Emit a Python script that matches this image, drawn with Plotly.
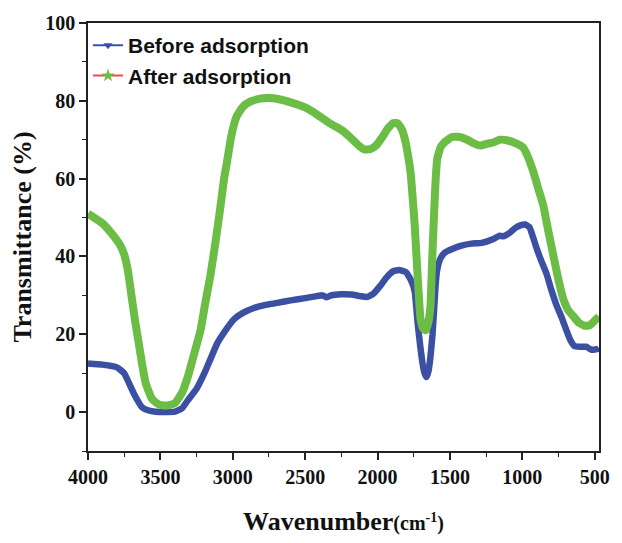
import plotly.graph_objects as go

before_x = [4000, 3900, 3800, 3750, 3716, 3680, 3628, 3580, 3534, 3470, 3400, 3350, 3311, 3250,
            3196, 3150, 3108, 3050, 2993, 2930, 2858, 2780, 2703, 2600, 2500, 2420, 2380, 2350,
            2320, 2250, 2180, 2120, 2070, 2027, 1980, 1940, 1892, 1850, 1804, 1770, 1743, 1723,
            1705, 1689, 1675, 1662, 1648, 1635, 1620, 1608, 1598, 1588, 1565, 1534, 1480, 1420,
            1351, 1280, 1200, 1160, 1130, 1090, 1050, 1014, 980, 950, 926, 900, 870, 832, 800,
            764, 730, 700, 669, 640, 602, 560, 520, 480, 470]
before_y = [12.5, 12.2, 11.5, 10, 7.4, 4.5, 1.3, 0.4, 0.1, 0, 0.1, 1, 3, 6,
            10, 14, 17.6, 21, 23.8, 25.5, 26.7, 27.5, 28, 28.7, 29.3, 29.8, 30, 29.5,
            30, 30.3, 30.2, 29.8, 29.6, 30.5, 32.5, 34.5, 36.2, 36.5, 36, 34, 31, 23,
            17, 12.5, 10, 9, 10.5, 14, 20, 27, 33, 36.5, 39.5, 41, 42, 42.8,
            43.3, 43.5, 44.5, 45.3, 45.2, 46, 47.3, 48, 48.2, 47.5, 45, 42, 39, 35.5, 31.5,
            27.5, 24.5, 21.5, 18.6, 17, 16.8, 16.8, 16, 16.2, 16.5]

after_x = [4000, 3900, 3828, 3780, 3750, 3725, 3700, 3675, 3649, 3625, 3601, 3560, 3520, 3493,
           3450, 3399, 3350, 3311, 3270, 3223, 3190, 3155, 3120, 3088, 3060, 3041, 3010, 2973,
           2930, 2880, 2820, 2750, 2680, 2600, 2500, 2430, 2380, 2330, 2280, 2230, 2180, 2130,
           2090, 2050, 2010, 1970, 1930, 1890, 1860, 1830, 1804, 1785, 1770, 1755, 1743, 1723,
           1703, 1685, 1669, 1652, 1635, 1622, 1608, 1598, 1588, 1565, 1541, 1486, 1432, 1380,
           1330, 1291, 1240, 1200, 1155, 1100, 1040, 994, 960, 926, 890, 854, 820, 784, 750,
           716, 680, 649, 610, 570, 534, 500, 470]
after_y = [51, 48.5, 45.5, 43, 40.5, 36.5, 30, 23.5, 17.6, 12, 7.4, 3.5, 2.2, 1.8,
           1.7, 2.3, 5, 9, 14.5, 21, 28, 35, 43.5, 52, 60, 64, 71, 76,
           78.5, 79.8, 80.5, 80.7, 80.4, 79.6, 78.3, 76.8, 75.5, 74.2, 73.2, 72, 70.3, 68.5,
           67.5, 67.6, 68.5, 70.5, 72.8, 74.3, 74.2, 72.5, 69, 65, 61, 54, 48, 35,
           24, 21.5, 21, 22.5, 27, 39.5, 52, 60, 65, 68, 69.2, 70.7, 70.7, 70,
           69, 68.5, 69, 69.3, 70, 69.8, 69, 68, 65.5, 62, 57.5, 53, 46.5, 40, 34,
           29, 26, 24.7, 23, 22.2, 22.3, 23.5, 24.5]

x_ticks = [4000, 3500, 3000, 2500, 2000, 1500, 1000, 500]
y_ticks = [0, 20, 40, 60, 80, 100]

BLUE = "#3B4FA3"
GREEN = "#6BBD45"
RED = "#EE4B52"
SERIF = "Liberation Serif"

fig = go.Figure()
fig.add_trace(go.Scatter(x=before_x, y=before_y, mode="lines",
                         line=dict(color=BLUE, width=6.5, shape="spline", smoothing=0.4),
                         showlegend=False))
fig.add_trace(go.Scatter(x=after_x, y=after_y, mode="lines",
                         line=dict(color=GREEN, width=8, shape="spline", smoothing=0.4),
                         showlegend=False))
fig.add_trace(go.Scatter(x=[None], y=[None], mode="lines+markers", name="Before adsorption",
                         line=dict(color=BLUE, width=2),
                         marker=dict(symbol="triangle-down", size=8, color=BLUE)))
fig.add_trace(go.Scatter(x=[None], y=[None], mode="lines+markers", name="After adsorption",
                         line=dict(color=RED, width=2),
                         marker=dict(symbol="star", size=10, color=GREEN)))

axis_common = dict(showline=True, linecolor="#222", linewidth=1.5, mirror=True,
                   showgrid=False, zeroline=False, ticks="outside", tickcolor="#222",
                   ticklen=7, tickwidth=1.5,
                   tickfont=dict(family=SERIF, size=20, color="#111", weight="bold"))

fig.update_xaxes(range=[4000, 470], tickvals=x_ticks, ticktext=[str(v) for v in x_ticks],
                 minor=dict(dtick=250, ticks="outside", ticklen=4, tickcolor="#222", tickwidth=1.2),
                 title=dict(text="Wavenumber<span style='font-size:20px'>(cm<sup>-1</sup>)</span>",
                            font=dict(family=SERIF, size=26, color="#111", weight="bold"), standoff=25),
                 **axis_common)
fig.update_yaxes(range=[-10, 100], tickvals=y_ticks, ticktext=[str(v) for v in y_ticks],
                 minor=dict(dtick=10, ticks="outside", ticklen=4, tickcolor="#222", tickwidth=1.2),
                 title=dict(text="Transmittance (%)",
                            font=dict(family=SERIF, size=26, color="#111", weight="bold"), standoff=6),
                 **axis_common)

fig.update_layout(width=622, height=543, margin=dict(l=88, r=13, t=19, b=91),
                  plot_bgcolor="white", paper_bgcolor="white",
                  legend=dict(x=0.0, y=0.995, xanchor="left", yanchor="top",
                              bgcolor="rgba(0,0,0,0)",
                              font=dict(family="Liberation Sans", size=21, color="#111", weight="bold"),
                              itemwidth=30))
fig.write_html("out.html")
